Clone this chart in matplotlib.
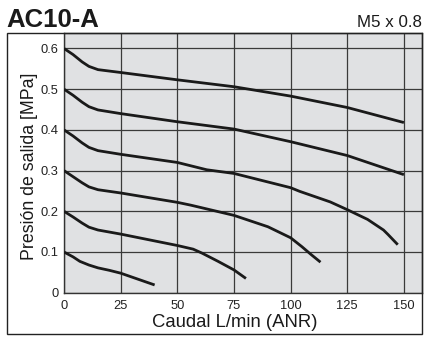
import numpy as np
import matplotlib
matplotlib.use("Agg")
import matplotlib.pyplot as plt
from matplotlib.patches import Rectangle

plt.rcParams['font.family'] = ['Liberation Sans', 'DejaVu Sans']

# curves (flow L/min, outlet pressure MPa)
q06 = [0, 4, 8, 11, 15, 25, 50, 75, 100, 125, 150]
p06 = [0.6, 0.585, 0.567, 0.556, 0.548, 0.541, 0.523, 0.506, 0.483, 0.455, 0.418]

q05 = [0, 4, 8, 11, 15, 25, 50, 75, 100, 125, 150]
p05 = [0.5, 0.485, 0.468, 0.457, 0.449, 0.44, 0.42, 0.402, 0.371, 0.337, 0.29]

q04 = [0, 4, 8, 11, 15, 25, 50, 63, 75, 90, 100, 104, 117.5, 125, 134, 141, 143, 147.3]
p04 = [0.4, 0.385, 0.368, 0.357, 0.349, 0.34, 0.32, 0.302, 0.293, 0.272, 0.258, 0.249,
       0.223, 0.204, 0.18, 0.154, 0.143, 0.118]

q03 = [0, 4, 8, 11, 15, 25, 50, 56, 75, 90, 100, 105, 109, 113.2]
p03 = [0.3, 0.285, 0.27, 0.26, 0.253, 0.245, 0.222, 0.215, 0.19, 0.162, 0.135, 0.113,
       0.094, 0.075]

q02 = [0, 4, 8, 11, 15, 25, 50, 57, 61, 68, 75, 80.3]
p02 = [0.2, 0.186, 0.171, 0.161, 0.154, 0.144, 0.116, 0.107, 0.097, 0.077, 0.056, 0.035]

q01 = [0, 4, 7, 11, 15, 20, 25, 40]
p01 = [0.1, 0.088, 0.077, 0.068, 0.061, 0.055, 0.048, 0.019]

xticks = [0, 25, 50, 75, 100, 125, 150]
yticks = [0, 0.1, 0.2, 0.3, 0.4, 0.5, 0.6]
ylabels = ['0', '0.1', '0.2', '0.3', '0.4', '0.5', '0.6']

W, H = 425, 338
fig = plt.figure(figsize=(W / 100, H / 100), dpi=100)
ax = fig.add_axes([64 / W, 1 - 292.7 / H, (422 - 64) / W, (292.7 - 33) / H])
ax.set_facecolor('#e0e1e3')

for q, p in [(q06, p06), (q05, p05), (q04, p04), (q03, p03), (q02, p02), (q01, p01)]:
    ax.plot(q, p, color='#1a1a1a', lw=2.0, solid_capstyle='butt', zorder=3)

ax.set_xlim(0, 158)
ax.set_ylim(0, 0.638)
ax.set_xticks(xticks)
ax.set_yticks(yticks)
ax.set_yticklabels(ylabels)
ax.grid(True, color='#3a3a3a', lw=0.9)
ax.set_axisbelow(True)
ax.tick_params(length=0, labelsize=9.3, colors='#222222')
ax.tick_params(axis='x', pad=5)
ax.tick_params(axis='y', pad=4)
for s in ax.spines.values():
    s.set_color('#333333')
    s.set_linewidth(1.0)

# outer frame
fig.patches.append(Rectangle((6.5 / W, 1 - 333.5 / H), (422 - 6.5) / W, (333.5 - 33) / H,
                             transform=fig.transFigure, fill=False,
                             edgecolor='#222222', lw=1.0))

fig.text(6 / W, 1 - 26.7 / H, 'AC10-A', fontsize=18.5, fontweight='bold',
         ha='left', va='baseline', color='#1a1a1a')
fig.text(421.5 / W, 1 - 26.7 / H, 'M5 x 0.8', fontsize=12.2, ha='right',
         va='baseline', color='#1a1a1a')
fig.text(235 / W, 1 - 326.7 / H, 'Caudal L/min (ANR)', fontsize=13.3,
         ha='center', va='baseline', color='#1a1a1a')
fig.text(30 / W, 1 - 166.5 / H, 'Presión de salida [MPa]', fontsize=12.8,
         rotation=90, ha='center', va='center', color='#1a1a1a')

fig.savefig('out.png', dpi=100)
